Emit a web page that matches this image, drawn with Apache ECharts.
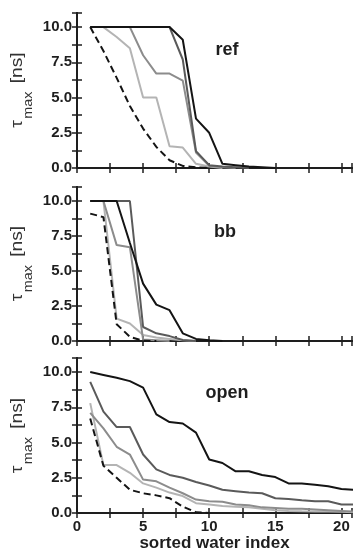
<!DOCTYPE html>
<html>
<head>
<meta charset="utf-8">
<script src="https://cdn.jsdelivr.net/npm/echarts@6/dist/echarts.min.js"></script>
<style>
  html, body { margin: 0; padding: 0; background: #fff; }
  #chart { width: 355px; height: 553px; }
</style>
</head>
<body>
<div id="chart"></div>
<script>
// sorted water index 1..21
const waterIndex = [1, 2, 3, 4, 5, 6, 7, 8, 9, 10, 11, 12, 13, 14, 15, 16, 17, 18, 19, 20, 21]

// ref
const refBlack = [10, 10, 10, 10, 10, 10, 10, 9.1, 3.5, 2.5, 0.3, 0.2, 0.1, 0.05, 0]
const refDark = [10, 10, 10, 10, 10, 10, 10, 7.7, 1.2, 0.2, 0.1, 0.05, 0]
const refMid = [10, 10, 10, 10, 8.0, 6.7, 6.7, 6.2, 1.1, 0.15, 0.05, 0]
const refLight = [10, 10, 9.3, 8.5, 5.0, 5.0, 1.55, 1.45, 0.3, 0.1, 0]
const refDash = [10, 8.3, 6.4, 4.4, 2.8, 1.5, 0.55, 0.15, 0.05, 0]

// bb
const bbBlack = [10, 10, 10, 7.0, 4.1, 2.6, 2.2, 0.55, 0.15, 0.05, 0]
const bbDark = [10, 10, 10, 10, 1.0, 0.55, 0.35, 0.07, 0]
const bbMid = [10, 10, 6.85, 6.7, 0.1, 0.05, 0]
const bbLight = [10, 10, 1.6, 1.25, 0.43, 0.25, 0.15, 0.05, 0]
const bbDash = [9.1, 8.85, 1.2, 0.3, 0.02, 0]

// open
const openBlack = [10.0, 9.8, 9.6, 9.36, 8.9, 7.0, 6.45, 6.35, 5.7, 3.8, 3.55, 2.96, 2.96, 2.7, 2.55, 2.1, 2.1, 2.0, 1.9, 1.7, 1.65]
const openDark = [9.3, 7.2, 6.1, 6.1, 4.15, 3.1, 2.7, 2.5, 2.2, 1.95, 1.65, 1.55, 1.45, 1.4, 1.05, 1.0, 0.9, 0.83, 0.83, 0.6, 0.6]
const openMid = [7.1, 6.0, 4.7, 4.15, 2.37, 2.25, 1.8, 1.4, 0.95, 0.83, 0.8, 0.6, 0.55, 0.4, 0.35, 0.3, 0.3, 0.25, 0.2, 0.15, 0.1]
const openLight = [7.8, 3.4, 3.4, 2.85, 2.1, 1.8, 1.45, 1.2, 0.7, 0.6, 0.5, 0.45, 0.4, 0.3, 0.2, 0.15, 0.12, 0.1, 0.1, 0.08, 0.05]
const openDash = [6.7, 3.35, 2.5, 1.65, 1.4, 1.25, 1.05, 0.45, 0.05, 0]

const panelNames = ["ref", "bb", "open"]
const yTicks = [0, 2.5, 5, 7.5, 10]
const xTicks = [0, 5, 10, 15, 20]

const panels = [
  [refLight, refMid, refDark, refBlack, refDash],
  [bbLight, bbMid, bbDark, bbBlack, bbDash],
  [openLight, openMid, openDark, openBlack, openDash],
]

const FRAME = "#1e1e1e"
const lineColors = ["#b4b4b4", "#8c8c8c", "#5a5a5a", "#141414", "#141414"]
const FONT = "Liberation Sans"

const grids = [
  { top: 13, height: 155 },
  { top: 187, height: 154 },
  { top: 358, height: 156 },
]

const pairs = (arr) => arr.map((v, i) => [waterIndex[i], v])

const xAxes = []
const yAxes = []
const series = []
const graphics = []

grids.forEach((g, gi) => {
  const last = gi === grids.length - 1
  const tick = { show: true, inside: true, length: 5, lineStyle: { color: FRAME, width: 1.5 } }
  const axisLine = { show: true, lineStyle: { color: FRAME, width: 2 } }
  // bottom x
  xAxes.push({
    gridIndex: gi, type: "value", position: "bottom",
    min: 0, max: 20.8, interval: 2.5,
    axisLine, axisTick: tick, splitLine: { show: false },
    axisLabel: {
      show: last, margin: 6, color: FRAME, fontFamily: FONT, fontWeight: "bold", fontSize: 15,
      formatter: (v) => (xTicks.includes(v) ? String(v) : ""),
    },
    name: last ? "sorted water index" : "",
    nameLocation: "middle", nameGap: 22,
    nameTextStyle: { color: FRAME, fontFamily: FONT, fontWeight: "bold", fontSize: 17 },
  })
  // top x (ticks only)
  xAxes.push({
    gridIndex: gi, type: "value", position: "top",
    min: 0, max: 20.8, interval: 2.5,
    axisLine, axisTick: tick, splitLine: { show: false }, axisLabel: { show: false },
  })
  // left y
  yAxes.push({
    gridIndex: gi, type: "value", position: "left",
    min: 0, max: 11, interval: 1.25,
    axisLine, axisTick: tick, splitLine: { show: false },
    axisLabel: {
      margin: 5, color: FRAME, fontFamily: FONT, fontWeight: "bold", fontSize: 15,
      formatter: (v) => (yTicks.includes(v) ? v.toFixed(1) : ""),
    },
  })
  // right y (ticks only)
  yAxes.push({
    gridIndex: gi, type: "value", position: "right",
    min: 0, max: 11, interval: 1.25,
    axisLine, axisTick: tick, splitLine: { show: false }, axisLabel: { show: false },
  })

  panels[gi].forEach((arr, si) => {
    series.push({
      type: "line",
      xAxisIndex: gi * 2,
      yAxisIndex: gi * 2,
      data: pairs(arr),
      showSymbol: false,
      symbol: "none",
      z: 2 + si,
      lineStyle: {
        color: lineColors[si],
        width: 2,
        type: si === 4 ? [7, 4] : "solid",
      },
    })
  })

  const cy = g.top + g.height / 2
  // y axis title: tau_max [ns], stretched a bit along the reading direction
  graphics.push({
    type: "group", x: 18, y: cy, rotation: Math.PI / 2, scaleX: 1.2,
    children: [
      { type: "text", x: -31, y: 0, style: { text: "τ", font: `16px "${FONT}"`, fill: "#333", textAlign: "left", textVerticalAlign: "middle" } },
      { type: "text", x: -23.5, y: 11, style: { text: "max", font: `12px "${FONT}"`, fill: "#333", textAlign: "left", textVerticalAlign: "middle" } },
      { type: "text", x: 6, y: 0, style: { text: "[ns]", font: `16px "${FONT}"`, fill: "#333", textAlign: "left", textVerticalAlign: "middle" } },
    ],
  })
})

// panel labels
const labelPos = [[227, 50], [225, 232], [227, 393]]
panelNames.forEach((name, i) => {
  graphics.push({
    type: "text", x: labelPos[i][0], y: labelPos[i][1], z: 10,
    style: { text: name, font: `bold 18px "${FONT}"`, fill: FRAME, textAlign: "center", textVerticalAlign: "middle" },
  })
})

const chart = echarts.init(document.getElementById("chart"))
chart.setOption({
  animation: false,
  backgroundColor: "#fff",
  grid: grids.map((g) => ({ left: 77, width: 275, top: g.top, height: g.height })),
  xAxis: xAxes,
  yAxis: yAxes,
  series,
  graphic: graphics,
})
</script>
</body>
</html>
